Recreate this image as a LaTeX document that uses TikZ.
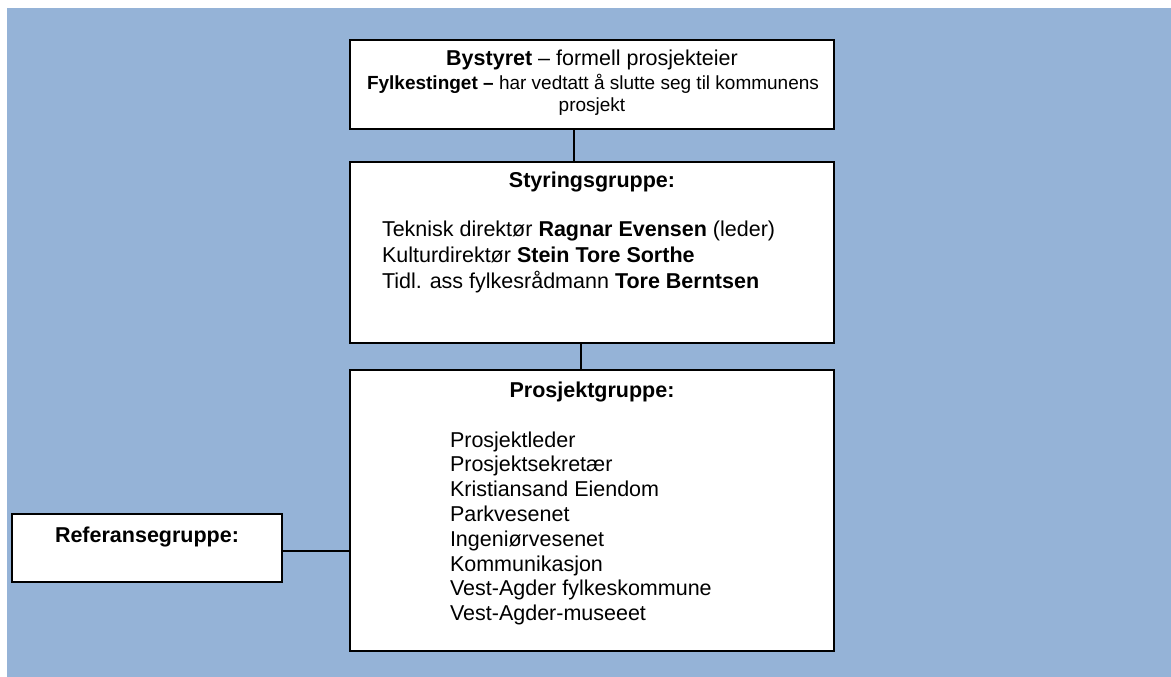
\documentclass[tikz,border=0pt]{standalone}
\usepackage{fontspec}
\setmainfont{Liberation Sans}
\usetikzlibrary{positioning}
\usepackage{xcolor}
\definecolor{bgblue}{HTML}{95B3D7}

\begin{document}
\begin{tikzpicture}[x=1pt, y=-1pt,
	every node/.style={inner sep=0pt, outer sep=0pt},
	orgbox/.style={draw=black, line width=1.5pt, fill=white, minimum width=484pt},
	bigtxt/.style={font=\fontsize{21.5}{25}\selectfont},
	smalltxt/.style={font=\fontsize{19}{22}\selectfont},
	link/.style={draw=black, line width=1.5pt},]

\useasboundingbox (0,0) rectangle (1171,677);
\fill[bgblue] (7,8) rectangle (1171,677);

% boxes
\node[orgbox, minimum height=89pt] (bystyre) at (592,84.5) {};
\node[orgbox, minimum height=181pt] (styring) at (592,252.5) {};
\node[orgbox, minimum height=281pt] (prosjekt) at (592,510.5) {};
\node[orgbox, minimum width=270pt, minimum height=68pt] (referanse) at (147,548) {};

% connectors
\draw[link] ([xshift=-18pt]bystyre.south) -- ([xshift=-18pt]styring.north);
\draw[link] ([xshift=-11pt]styring.south) -- ([xshift=-11pt]prosjekt.north);
\draw[link] ([yshift=-3pt]referanse.east) -- ([yshift=-3pt]referanse.east -| prosjekt.west);

% owner
\node[bigtxt, anchor=base] (eier) at (592,66) {\textbf{Bystyret} – formell prosjekteier};
\node[smalltxt, anchor=base] (fylke) at (593,89) {\textbf{Fylkestinget –} har vedtatt å slutte seg til kommunens};
\node[smalltxt, anchor=base] (fylke2) at (592,111) {prosjekt};

% steering group
\node[bigtxt, anchor=base] (styrtitle) at (592,187) {\textbf{Styringsgruppe:}};
\node[bigtxt, anchor=base west] (styr1) at (382,236) {Teknisk direktør \textbf{Ragnar Evensen} (leder)};
\node[bigtxt, anchor=base west] (styr2) at (382,262) {Kulturdirektør \textbf{Stein Tore Sorthe}};
\node[bigtxt, anchor=base west] (styr3) at (382,288) {Tidl. ass fylkesrådmann \textbf{Tore Berntsen}};

% project group
\node[bigtxt, anchor=base] (prtitle) at (592,397) {\textbf{Prosjektgruppe:}};
\foreach \member [count=\i from 0] in {Prosjektleder, Prosjektsekretær, Kristiansand Eiendom,
	Parkvesenet, Ingeniørvesenet, Kommunikasjon, Vest-Agder fylkeskommune, Vest-Agder-museeet}
	\node[bigtxt, anchor=base west] (pg\i) at (450,447+24.8*\i) {\member};

% reference group
\node[bigtxt, anchor=base] (reftitle) at (147,542) {\textbf{Referansegruppe:}};

\end{tikzpicture}
\end{document}
